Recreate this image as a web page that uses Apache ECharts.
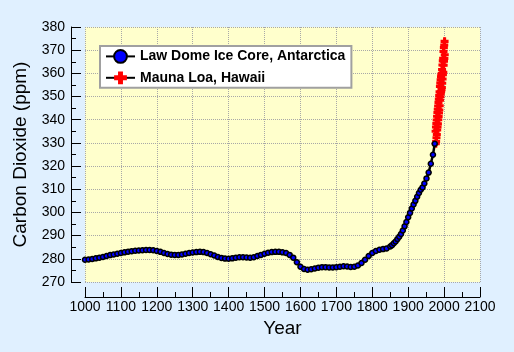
<!DOCTYPE html>
<html>
<head>
<meta charset="utf-8">
<script src="https://cdn.jsdelivr.net/npm/echarts@6/dist/echarts.min.js"></script>
<style>
  html, body { margin: 0; padding: 0; background: #e0f0ff; }
  #chart-container { width: 514px; height: 352px; }
</style>
</head>
<body>
<div id="chart-container"></div>
<script>
// Law Dome ice core (year, ppm)
const lawYears = [
  1000, 1010, 1020, 1030, 1040, 1050, 1060, 1070, 1080, 1090,
  1100, 1110, 1120, 1130, 1140, 1150, 1160, 1170, 1180, 1190,
  1200, 1210, 1220, 1230, 1240, 1250, 1260, 1270, 1280, 1290,
  1300, 1310, 1320, 1330, 1340, 1350, 1360, 1370, 1380, 1390,
  1400, 1410, 1420, 1430, 1440, 1450, 1460, 1470, 1480, 1490,
  1500, 1510, 1520, 1530, 1540, 1550, 1560, 1570, 1580, 1590,
  1600, 1610, 1620, 1630, 1640, 1650, 1660, 1670, 1680, 1690,
  1700, 1710, 1720, 1730, 1740, 1750, 1760, 1770, 1780, 1790,
  1800, 1810, 1820, 1830, 1840, 1850, 1855, 1860, 1865, 1870,
  1875, 1880, 1885, 1890, 1895, 1900, 1905, 1910, 1915, 1920,
  1925, 1930, 1935, 1940, 1945, 1951, 1957, 1963, 1969, 1974
];
const lawCO2 = [
  279.6, 279.7, 279.9, 280.2, 280.5, 280.8, 281.2, 281.6, 281.9, 282.2,
  282.5, 282.8, 283.1, 283.3, 283.5, 283.6, 283.7, 283.8, 283.8, 283.7,
  283.4, 283.0, 282.5, 282.1, 281.8, 281.7, 281.7, 281.9, 282.2, 282.5,
  282.7, 282.9, 283.0, 282.9, 282.5, 282.0, 281.4, 280.8, 280.4, 280.1,
  280.0, 280.2, 280.5, 280.7, 280.7, 280.6, 280.5, 280.7, 281.2, 281.7,
  282.2, 282.6, 282.9, 283.0, 283.0, 282.8, 282.5, 281.7, 280.5, 278.5,
  276.6, 275.6, 275.3, 275.5, 275.8, 276.2, 276.4, 276.4, 276.3, 276.3,
  276.4, 276.6, 276.8, 276.7, 276.5, 276.6, 277.1, 278.2, 279.6, 281.2,
  282.5, 283.4, 283.9, 284.2, 284.5, 285.3, 285.9, 286.7, 287.5, 288.5,
  289.5, 290.7, 292.2, 294.0, 295.9, 297.9, 299.8, 301.7, 303.4, 305.0,
  306.8, 308.4, 309.8, 310.8, 312.5, 314.7, 317.2, 321.0, 324.9, 329.6
];

// Mauna Loa seasonal highs (May) and lows (Oct), 1976-2001
const mlYears = [
  1976, 1977, 1978, 1979, 1980, 1981, 1982, 1983, 1984, 1985, 1986, 1987, 1988,
  1989, 1990, 1991, 1992, 1993, 1994, 1995, 1996, 1997, 1998, 1999, 2000, 2001
];
const mlHigh = [
  335.0, 336.9, 338.4, 339.9, 341.5, 343.1, 344.5, 345.9, 347.5, 348.9, 350.4, 352.0, 354.3,
  355.8, 357.2, 358.5, 359.3, 359.9, 361.6, 363.6, 365.4, 366.5, 369.4, 371.1, 372.2, 373.8
];
const mlLow = [
  329.6, 330.6, 332.2, 333.6, 335.6, 336.9, 338.2, 340.0, 341.4, 342.9, 344.2, 346.0, 348.4,
  349.9, 351.2, 352.2, 353.0, 353.9, 355.7, 357.6, 359.4, 360.5, 363.5, 365.2, 366.4, 368.0
];

const lawData = lawYears.map((y, i) => [y, lawCO2[i]]);
const mlData = [];
mlYears.forEach((y, i) => {
  mlData.push([y + 0.37, mlHigh[i]]);
  mlData.push([y + 0.78, mlLow[i]]);
});

const plusPath = 'path://M4,0H9V4H13V9H9V13H4V9H0V4H4Z';
const font = 'Liberation Sans, Arial, sans-serif';

const myChart = echarts.init(document.getElementById('chart-container'));
const option = {
  backgroundColor: '#e0f0ff',
  animation: false,
  grid: {
    left: 85, right: 34, top: 27, bottom: 70,
    show: true, backgroundColor: '#ffffcc', borderWidth: 0
  },
  legend: {
    left: 100, top: 46,
    orient: 'vertical',
    backgroundColor: '#ffffff',
    borderColor: '#a0a0a0',
    borderWidth: 2,
    padding: [3, 6, 3, 5],
    itemGap: 7,
    itemWidth: 29,
    itemHeight: 16,
    textStyle: { fontFamily: font, fontSize: 14, fontWeight: 'bold', color: '#000' },
    data: [
      { name: 'Law Dome Ice Core, Antarctica', lineStyle: { color: '#000', width: 2, opacity: 1 } },
      { name: 'Mauna Loa, Hawaii', lineStyle: { color: '#000', width: 2, opacity: 1 } }
    ]
  },
  xAxis: {
    type: 'value',
    min: 1000, max: 2100, interval: 100,
    offset: 15,
    name: 'Year',
    nameLocation: 'middle',
    nameGap: 19,
    nameTextStyle: { fontFamily: font, fontSize: 19, color: '#000' },
    axisLine: { lineStyle: { color: '#000', width: 1 } },
    axisTick: { inside: true, length: 10, lineStyle: { color: '#000' } },
    minorTick: { show: true, splitNumber: 2, length: 5, lineStyle: { color: '#000' } },
    axisLabel: { fontFamily: font, fontSize: 14, color: '#000', margin: 3, formatter: v => String(v) },
    splitLine: { show: true, lineStyle: { color: '#a8a8a8', type: [1, 1], width: 1 } }
  },
  yAxis: {
    type: 'value',
    min: 270, max: 380, interval: 10,
    offset: 14,
    name: 'Carbon Dioxide (ppm)',
    nameLocation: 'middle',
    nameGap: 28,
    nameTextStyle: { fontFamily: font, fontSize: 19, color: '#000' },
    axisLine: { show: true, lineStyle: { color: '#000', width: 1 } },
    axisTick: { show: true, inside: true, length: 10, lineStyle: { color: '#000' } },
    minorTick: { show: true, splitNumber: 2, length: 5, lineStyle: { color: '#000' } },
    axisLabel: { fontFamily: font, fontSize: 14, color: '#000', margin: 6 },
    splitLine: { show: true, lineStyle: { color: '#a8a8a8', type: [1, 1], width: 1 } }
  },
  series: [
    {
      name: 'Law Dome Ice Core, Antarctica',
      type: 'line',
      z: 3,
      data: lawData,
      showAllSymbol: true,
      symbol: 'circle',
      symbolSize: 5,
      itemStyle: { color: '#0000ff', borderColor: '#000', borderWidth: 1.5 },
      lineStyle: { color: '#000', width: 2.5 }
    },
    {
      name: 'Mauna Loa, Hawaii',
      type: 'line',
      z: 2,
      data: mlData,
      showAllSymbol: true,
      symbol: plusPath,
      symbolSize: 8,
      itemStyle: { color: '#ff0000', borderWidth: 0 },
      lineStyle: { color: '#000', width: 1, opacity: 0 }
    }
  ]
};
myChart.setOption(option);
</script>
</body>
</html>
